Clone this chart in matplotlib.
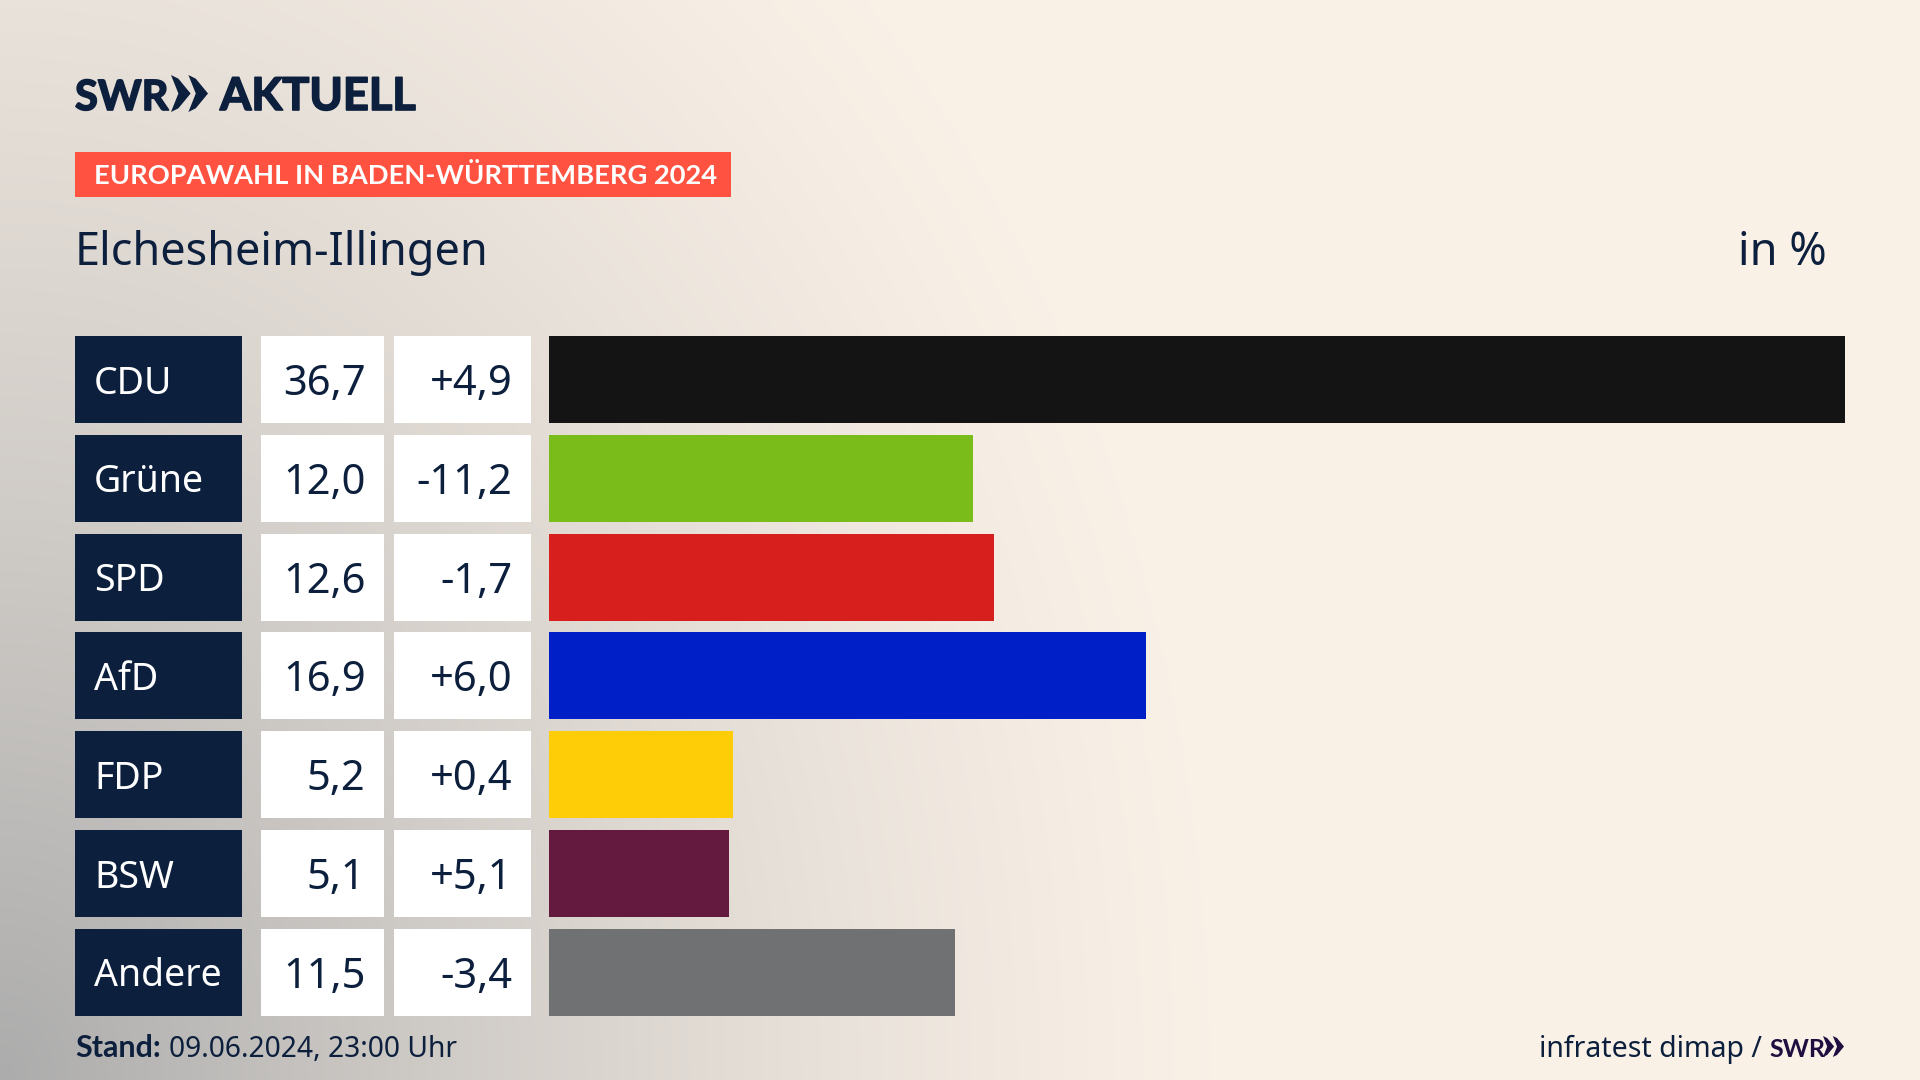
import numpy as np
import matplotlib
matplotlib.use("Agg")
import matplotlib.pyplot as plt
import matplotlib.patheffects as pe
from matplotlib.patches import Rectangle, Polygon

# chart data
parties = ["CDU", "Grüne", "SPD", "AfD", "FDP", "BSW", "Andere"]
shares = [36.7, 12.0, 12.6, 16.9, 5.2, 5.1, 11.5]
changes = [4.9, -11.2, -1.7, 6.0, 0.4, 5.1, -3.4]
bar_colors = ["#141414", "#7abd1a", "#d71f1d", "#001fc6", "#ffcc08", "#64193f", "#707173"]

NAVY = "#0c1f3c"
CREAM = np.array([250, 241, 231]) / 255
GREY = np.array([172, 172, 172]) / 255
FONT = "Noto Sans"
BOLD = "Lato"


def fmt(v, signed=False):
    # german decimal comma
    s = f"{v:+.1f}" if signed else f"{v:.1f}"
    return s.replace(".", ",")


def chevrons(ax, x, y0, y1, w, color):
    # the two arrows of the SWR logo
    for off in [0, w * 0.47]:
        ym = (y0 + y1) / 2
        ax.add_patch(Polygon([(x + off, y0), (x + off + w * 0.2, y0 + (y1 - y0) * 0.1), (x + off + w * 0.53, ym),
                              (x + off + w * 0.2, y1 - (y1 - y0) * 0.1), (x + off, y1), (x + off + w * 0.2, ym)],
                             closed=True, color=color, lw=0))


fig = plt.figure(figsize=(19.2, 10.8), dpi=100)

# background: cream with grey coming in from the bottom left corner
bg = fig.add_axes([0, 0, 1, 1], zorder=0)
gx, gy = np.meshgrid(np.linspace(0, 1, 480), np.linspace(0, 1, 270))
d = np.sqrt((gx / 0.66) ** 2 + ((1 - gy) / 1.5) ** 2)
t = np.clip(1 - d, 0, 1) ** 1.4
img = CREAM[None, None, :] * (1 - t[..., None]) + GREY[None, None, :] * t[..., None]
bg.imshow(img, extent=[0, 1920, 1080, 0], aspect="auto", interpolation="bilinear")
bg.axis("off")

# overlay in pixel coordinates
ax = fig.add_axes([0, 0, 1, 1], zorder=2)
ax.set_xlim(0, 1920)
ax.set_ylim(1080, 0)
ax.axis("off")
ax.patch.set_alpha(0)

# logo, the stroke makes it a bit heavier
heavy = [pe.withStroke(linewidth=1.2, foreground=NAVY)]
ax.text(75, 110, "SWR", family=BOLD, fontweight="bold", fontsize=30, color=NAVY, va="baseline", path_effects=heavy)
chevrons(ax, 171, 75, 112, 37, NAVY)
ax.text(220, 110, "AKTUELL", family=BOLD, fontweight="bold", fontsize=32.5, color=NAVY, va="baseline", path_effects=heavy)

# header
ax.add_patch(Rectangle((75, 152), 656, 45, color="#ff5240", lw=0))
ax.text(94, 184, "EUROPAWAHL IN BADEN-WÜRTTEMBERG 2024", family=BOLD, fontweight="bold",
        fontsize=19.6, color="white", va="baseline")
ax.text(75, 265, "Elchesheim-Illingen", family=FONT, fontsize=32.4, color=NAVY, va="baseline")
ax.text(1827, 265, "in %", family=FONT, fontsize=32.4, color=NAVY, va="baseline", ha="right")

# rows
row_top = 336
row_h = 87
row_step = 98.8
for i, party in enumerate(parties):
    top = row_top + i * row_step
    mid = top + row_h / 2
    ax.add_patch(Rectangle((75, top), 167, row_h, color=NAVY, lw=0))
    ax.add_patch(Rectangle((261, top), 123, row_h, color="white", lw=0))
    ax.add_patch(Rectangle((394, top), 137, row_h, color="white", lw=0))
    ax.text(94, mid + 14, party, family=FONT, fontsize=27, color="white", va="baseline")
    ax.text(365.5, mid + 15.5, fmt(shares[i]), family=FONT, fontsize=30, color=NAVY, va="baseline", ha="right")
    ax.text(512.5, mid + 15.5, fmt(changes[i], signed=True), family=FONT, fontsize=30, color=NAVY,
            va="baseline", ha="right")

# bars, scaled so CDU fills the whole width
bar_ax = fig.add_axes([549 / 1920, 1 - (row_top + 6 * row_step + row_h) / 1080,
                       (1845 - 549) / 1920, (6 * row_step + row_h) / 1080], zorder=1)
bar_ax.barh(range(len(parties)), shares, height=row_h / row_step, color=bar_colors, lw=0)
bar_ax.set_xlim(0, max(shares))
bar_ax.set_ylim(6 + row_h / row_step / 2, -row_h / row_step / 2)
bar_ax.axis("off")
bar_ax.patch.set_alpha(0)

# footer
ax.text(75, 1057, "Stand:", family=BOLD, fontweight="bold", fontsize=22, color=NAVY, va="baseline")
ax.text(169, 1057, "09.06.2024, 23:00 Uhr", family=FONT, fontsize=20.3, color=NAVY, va="baseline")
ax.text(1762, 1057, "infratest dimap /", family=FONT, fontsize=20.5, color=NAVY, va="baseline", ha="right")
ax.text(1769, 1057, "SWR", family=BOLD, fontweight="bold", fontsize=18, color="#1e0f40", va="baseline")
chevrons(ax, 1823, 1036, 1057, 21, "#1e0f40")

fig.savefig("out.png", dpi=100)
